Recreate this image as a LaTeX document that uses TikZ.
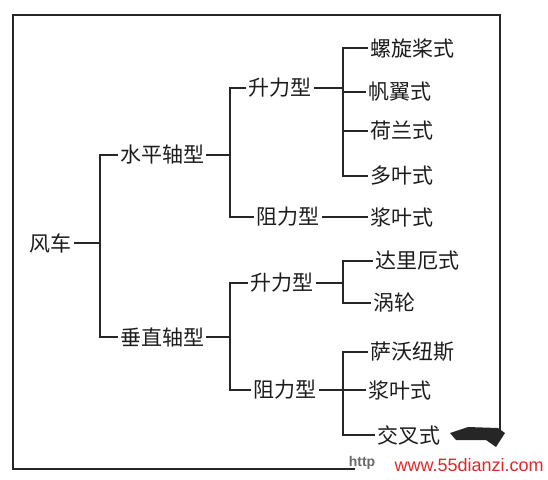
\documentclass[tikz,border=0pt]{standalone}
\usepackage{fontspec}
\usepackage{xcolor,tikz}
\usetikzlibrary{positioning,calc}
\newfontfamily\cjkfont{Noto Sans CJK SC}
\setsansfont{Liberation Sans}
\definecolor{fcLine}{HTML}{262626}
\definecolor{fcText}{HTML}{1C1C1C}
\definecolor{fcMark}{HTML}{E02828}
\definecolor{fcGrey}{HTML}{6A6A6A}

\begin{document}
\begin{tikzpicture}[x=0.5pt, y=-0.5pt,
  lbl/.style={inner sep=1pt, font=\cjkfont\fontsize{10.5}{12}\selectfont, text=fcText},
  leaf/.style={lbl, anchor=west},
  link/.style={draw=fcLine, line width=0.75pt}]

\useasboundingbox (0,0) rectangle (548,479);

% --- FRAME (open at the lower right corner) ---
\draw[link] (355,469) -- (13,469) -- (13,15) -- (500,15) -- (500,432);
\fill[fcLine] (450,433) -- (468,427) -- (498,428) -- (505,433)
  -- (496,447) -- (486,440) -- (456,440) -- cycle;

% --- ROOT AND AXIS TYPES ---
\node[lbl] (fc) at (51,243) {风车};
\node[lbl] (sp) at (162,155) {水平轴型};
\node[lbl] (cz) at (162,337) {垂直轴型};

% --- LIFT / DRAG TYPES ---
\node[lbl] (spSl) at (280,88) {升力型};
\node[lbl] (spZl) at (288,217) {阻力型};
\node[lbl] (czSl) at (282,283) {升力型};
\node[lbl] (czZl) at (285,390) {阻力型};

% --- LEAVES (name / x / y / text) ---
\foreach \nm/\xx/\yy/\txt in {lfA/368/48/螺旋桨式, lfB/366/92/帆翼式,
    lfC/368/131/荷兰式, lfD/368/176/多叶式, lfE/368/217/浆叶式,
    lfF/373/261/达里厄式, lfG/371/303/涡轮, lfH/368/352/萨沃纽斯,
    lfI/366/390/浆叶式, lfK/375/435/交叉式} {
  \node[leaf] (\nm) at (\xx,\yy) {\txt};
}

% --- JUNCTIONS ---
\coordinate (j0) at (100,243);
\coordinate (j1) at (230,155);
\coordinate (j2) at (230,337);
\coordinate (j3) at (343,88);
\coordinate (j5) at (343,283);
\coordinate (j6) at (343,390);

% --- CONNECTORS ---
\draw[link] (fc.east) -- (j0);
\draw[link] (j0) |- (sp.west);
\draw[link] (j0) |- (cz.west);

\draw[link] (sp.east) -- (j1);
\draw[link] (j1) |- (spSl.west);
\draw[link] (j1) |- (spZl.west);
\draw[link] (cz.east) -- (j2);
\draw[link] (j2) |- (czSl.west);
\draw[link] (j2) |- (czZl.west);

\draw[link] (spSl.east) -- (j3);
\foreach \nm in {lfA, lfB, lfC, lfD}
  \draw[link] (j3) |- (\nm.west);
\draw[link] (spZl.east) -- (lfE.west);
\draw[link] (czSl.east) -- (j5);
\foreach \nm in {lfF, lfG}
  \draw[link] (j5) |- (\nm.west);
\draw[link] (czZl.east) -- (j6);
\foreach \nm in {lfH, lfI, lfK}
  \draw[link] (j6) |- (\nm.west);

% --- WATERMARK ---
\node[font=\sffamily\bfseries\fontsize{7}{8}\selectfont, text=fcGrey, inner sep=1pt]
  (ht) at (362,463) {http};
\node[anchor=east, font=\sffamily\fontsize{9}{10}\selectfont, text=fcMark, inner sep=1pt]
  (wm) at (546,465) {www.55dianzi.com};

\end{tikzpicture}
\end{document}
